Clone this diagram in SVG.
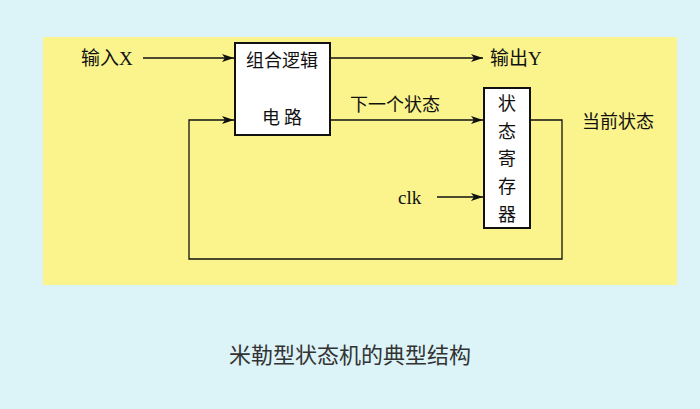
<svg xmlns="http://www.w3.org/2000/svg" width="700" height="409" viewBox="0 0 700 409">
<style>
.t{font-family:"Liberation Serif","Noto Sans CJK SC",serif;font-size:19px;fill:#111}
.c{font-family:"Noto Sans CJK SC",sans-serif;font-size:18px;fill:#111}
.box{fill:#fff;stroke:#111;stroke-width:2}
.ln{fill:none;stroke:#111;stroke-width:1.3}
</style>
<defs><marker id="a" viewBox="0 0 12 8" refX="12" refY="4" markerWidth="12" markerHeight="8" markerUnits="userSpaceOnUse" orient="auto"><path d="M0,0 L12,4 L0,8 L3,4 Z" fill="#111"/></marker></defs>
<rect width="700" height="409" fill="#dcf3f8"/>
<rect x="43" y="37" width="634" height="248" fill="#fbf48c"/>
<g id="connectors">
<line class="ln" x1="143" y1="58" x2="234" y2="58" marker-end="url(#a)"/>
<line class="ln" x1="330" y1="58" x2="483" y2="58" marker-end="url(#a)"/>
<line class="ln" x1="330" y1="120" x2="483" y2="120" marker-end="url(#a)"/>
<polyline class="ln" points="530,120 562,120 562,259 189,259 189,120 234,120" marker-end="url(#a)"/>
<line class="ln" x1="437" y1="197" x2="483" y2="197" marker-end="url(#a)"/>
</g>
<g id="comb"><rect class="box" x="235" y="43" width="95" height="92"/>
<text class="c" x="282" y="67" text-anchor="middle">组合逻辑</text>
<text class="c" x="282" y="124" text-anchor="middle">电 路</text></g>
<g id="reg"><rect class="box" x="484" y="88" width="46" height="140"/>
<text class="c" x="507" y="110" text-anchor="middle">状</text>
<text class="c" x="507" y="138" text-anchor="middle">态</text>
<text class="c" x="507" y="165" text-anchor="middle">寄</text>
<text class="c" x="507" y="193" text-anchor="middle">存</text>
<text class="c" x="507" y="221" text-anchor="middle">器</text></g>
<g id="labels">
<text class="t" x="81" y="65">输入X</text>
<text class="t" x="490" y="65">输出Y</text>
<text class="c" x="350" y="111">下一个状态</text>
<text class="c" x="582" y="128">当前状态</text>
<text class="t" x="398" y="204" font-size="21">clk</text>
</g>
<text x="350" y="363" text-anchor="middle" font-family="Noto Sans CJK SC,sans-serif" font-size="22" fill="#333">米勒型状态机的典型结构</text>
</svg>
